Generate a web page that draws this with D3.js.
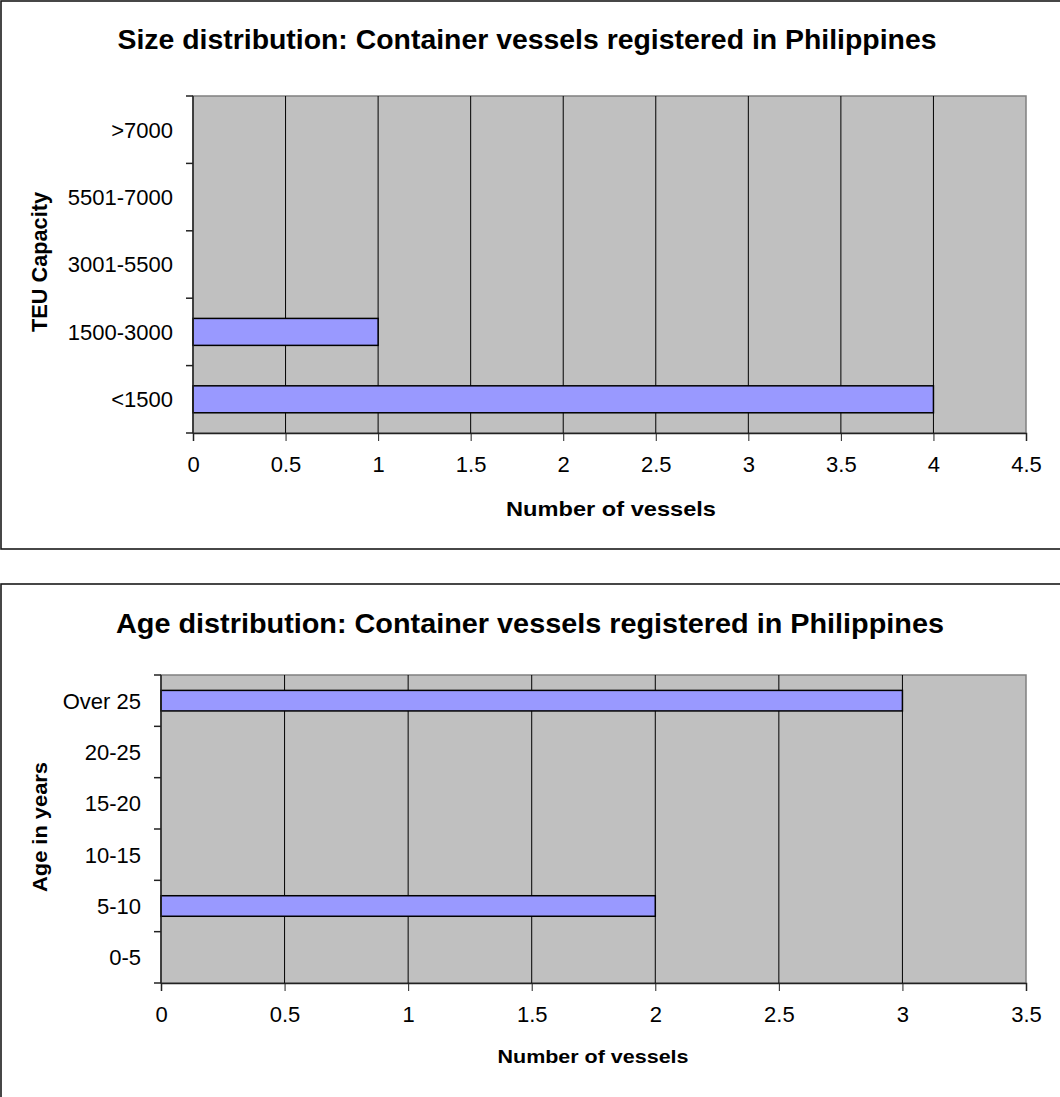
<!DOCTYPE html>
<html>
<head>
<meta charset="utf-8">
<script src="https://cdn.jsdelivr.net/npm/d3@7"></script>
<style>
  html, body { margin: 0; padding: 0; background: #fff; }
  svg { display: block; font-family: "Liberation Sans", Arial, sans-serif; }
</style>
</head>
<body>
<svg id="chart" width="1060" height="1097"></svg>
<script>
// ---- Data ----
const sizeCategories = [">7000", "5501-7000", "3001-5500", "1500-3000", "<1500"];
const sizeValues = [0, 0, 0, 1, 4];
const sizeTicks = [0, 0.5, 1, 1.5, 2, 2.5, 3, 3.5, 4, 4.5];
const sizeTitle = "Size distribution: Container vessels registered in Philippines";
const sizeYTitle = "TEU Capacity";

const ageCategories = ["Over 25", "20-25", "15-20", "10-15", "5-10", "0-5"];
const ageValues = [3, 0, 0, 0, 2, 0];
const ageTicks = [0, 0.5, 1, 1.5, 2, 2.5, 3, 3.5];
const ageTitle = "Age distribution: Container vessels registered in Philippines";
const ageYTitle = "Age in years";

const xTitle = "Number of vessels";

const svg = d3.select("#chart");

function drawChart(cfg) {
  const g = svg.append("g");
  // outer frame
  g.append("rect")
    .attr("x", cfg.box.x).attr("y", cfg.box.y)
    .attr("width", cfg.box.w).attr("height", cfg.box.h)
    .attr("fill", "#fff").attr("stroke", "#1a1a1a").attr("stroke-width", 1.6);

  const p = cfg.plot;
  const x = d3.scaleLinear().domain([0, d3.max(cfg.ticks)]).range([p.left, p.right]);
  const y = d3.scaleBand().domain(cfg.categories).range([p.top, p.bottom]).padding(0);

  // plot area
  g.append("rect")
    .attr("x", p.left).attr("y", p.top)
    .attr("width", p.right - p.left).attr("height", p.bottom - p.top)
    .attr("fill", "#c0c0c0").attr("stroke", "#808080").attr("stroke-width", 1.5);

  // vertical gridlines
  g.selectAll(".grid").data(cfg.ticks.filter(t => t > 0 && t < d3.max(cfg.ticks)))
    .enter().append("line")
    .attr("x1", d => x(d)).attr("x2", d => x(d))
    .attr("y1", p.top).attr("y2", p.bottom)
    .attr("stroke", "#000").attr("stroke-width", 1);

  // bars
  const data = cfg.categories.map((c, i) => ({ cat: c, value: cfg.values[i] }));
  const bw = y.bandwidth();
  g.selectAll(".bar").data(data.filter(d => d.value > 0))
    .enter().append("rect")
    .attr("x", x(0))
    .attr("y", d => y(d.cat) + bw * 0.3)
    .attr("width", d => x(d.value) - x(0))
    .attr("height", bw * 0.4)
    .attr("fill", "#9999ff").attr("stroke", "#000").attr("stroke-width", 1.5);

  // x axis
  const xAxis = d3.axisBottom(x).tickValues(cfg.ticks).tickSize(8).tickPadding(16)
    .tickFormat(d => String(d));
  const xg = g.append("g").attr("transform", `translate(0,${p.bottom})`).call(xAxis);
  xg.select(".domain").attr("stroke", "#222").attr("stroke-width", 1.5);
  xg.selectAll(".tick line").attr("stroke", "#222");
  xg.selectAll(".tick text").attr("font-size", 22).attr("fill", "#000")
    .attr("font-family", "Liberation Sans, Arial, sans-serif")
    .attr("dy", "0.68em");

  // y axis: ticks at category boundaries
  const bounds = cfg.categories.map(c => y(c)).concat([p.bottom]);
  g.selectAll(".ytick").data(bounds).enter().append("line")
    .attr("x1", p.left - 7).attr("x2", p.left)
    .attr("y1", d => d).attr("y2", d => d)
    .attr("stroke", "#222").attr("stroke-width", 1.5);
  g.append("line")
    .attr("x1", p.left).attr("x2", p.left)
    .attr("y1", p.top).attr("y2", p.bottom)
    .attr("stroke", "#222").attr("stroke-width", 1.5);
  g.selectAll(".ylab").data(cfg.categories).enter().append("text")
    .attr("x", cfg.yLabelX)
    .attr("y", d => y(d) + bw / 2)
    .attr("dy", "0.36em")
    .attr("text-anchor", "end")
    .attr("font-size", 22)
    .attr("fill", "#000")
    .text(d => d);

  // title
  g.append("text")
    .attr("x", cfg.titlePos.x).attr("y", cfg.titlePos.y)
    .attr("text-anchor", "middle")
    .attr("font-size", cfg.titlePos.size).attr("font-weight", "bold")
    .attr("textLength", cfg.titlePos.len).attr("lengthAdjust", "spacingAndGlyphs")
    .text(cfg.title);

  // x title
  g.append("text")
    .attr("x", cfg.xTitlePos.x).attr("y", cfg.xTitlePos.y)
    .attr("text-anchor", "middle")
    .attr("font-size", cfg.xTitlePos.size).attr("font-weight", "bold")
    .attr("textLength", cfg.xTitlePos.len).attr("lengthAdjust", "spacingAndGlyphs")
    .text(xTitle);

  // y title
  g.append("text")
    .attr("transform", `translate(${cfg.yTitlePos.x},${cfg.yTitlePos.y}) rotate(-90)`)
    .attr("text-anchor", "middle")
    .attr("font-size", cfg.yTitlePos.size).attr("font-weight", "bold")
    .attr("textLength", cfg.yTitlePos.len).attr("lengthAdjust", "spacingAndGlyphs")
    .text(cfg.yTitle);
}

drawChart({
  box: { x: 1, y: 1, w: 1070, h: 548 },
  plot: { left: 193, right: 1026, top: 96, bottom: 433 },
  categories: sizeCategories, values: sizeValues, ticks: sizeTicks,
  yLabelX: 173,
  title: sizeTitle, yTitle: sizeYTitle,
  titlePos: { x: 527, y: 49, size: 27, len: 819 },
  xTitlePos: { x: 611, y: 516, size: 21, len: 210 },
  yTitlePos: { x: 47, y: 262, size: 21.5, len: 140 }
});

drawChart({
  box: { x: 1, y: 584, w: 1070, h: 520 },
  plot: { left: 161, right: 1026, top: 675, bottom: 983 },
  categories: ageCategories, values: ageValues, ticks: ageTicks,
  yLabelX: 141,
  title: ageTitle, yTitle: ageYTitle,
  titlePos: { x: 530, y: 633, size: 27, len: 828 },
  xTitlePos: { x: 593, y: 1063, size: 19, len: 191 },
  yTitlePos: { x: 47, y: 827, size: 21, len: 130 }
});
</script>
</body>
</html>
